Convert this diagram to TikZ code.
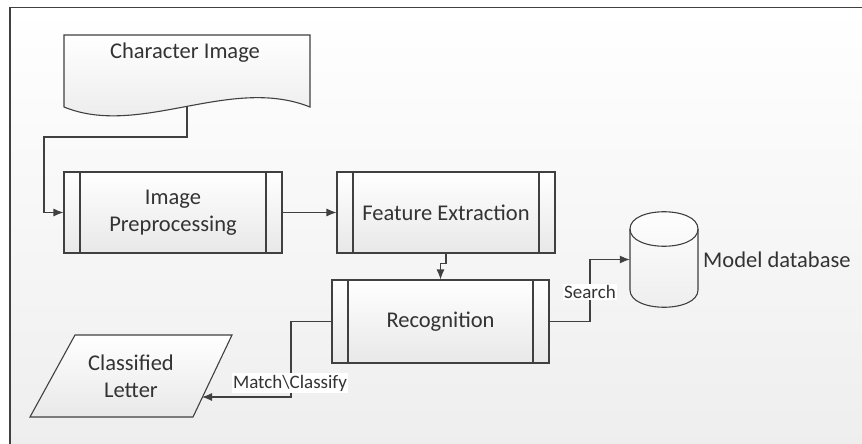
\documentclass[tikz,border=0pt]{standalone}
\usepackage{fontspec}
\setmainfont{Carlito}
\usetikzlibrary{arrows.meta}
\definecolor{linec}{HTML}{404040}
\definecolor{textc}{HTML}{333333}
\begin{document}
\begin{tikzpicture}[x=1pt,y=-1pt,
  every node/.style={text=textc},
  mainfont/.style={font=\fontsize{22.5}{27}\selectfont},
  shapeline/.style={draw=linec, line width=1.1pt},
  boxfill/.style={top color=white, bottom color=black!9},
  procbox/.style={shapeline, boxfill, minimum width=218pt, minimum height=81pt,
    inner sep=0pt, mainfont, align=center,
    path picture={\draw[linec, line width=1.1pt]
      ([xshift=16pt]path picture bounding box.north west) -- ([xshift=16pt]path picture bounding box.south west)
      ([xshift=-16pt]path picture bounding box.north east) -- ([xshift=-16pt]path picture bounding box.south east);}},
  plain/.style={inner sep=0pt, mainfont, align=center},
  arr/.style={draw=linec, line width=1.1pt, -{Latex[length=10pt,width=8pt]}},
  lbl/.style={fill=white, inner sep=1.5pt, font=\fontsize{19}{22}\selectfont}
]
\useasboundingbox (0,0) rectangle (862,444);
\clip (0,0) rectangle (862,444);
\fill[white] (0,0) rectangle (862,444);
% frame
\draw[linec, line width=1.2pt, top color=white, bottom color=black!7] (10,7.5) rectangle (880,470);

% document shape
\draw[shapeline, boxfill] (64,35) -- (310,35) -- (310,107)
  .. controls (230,75) and (140,138) .. (64,107) -- cycle;
\node[plain] (doc) at (185,53) {Character Image};
\coordinate (docb) at (187,107);
\coordinate (bend1) at (44,137);

% process boxes
\node[procbox] (ip) at (173,212.5) {Image\\Preprocessing};
\node[procbox] (fe) at (446,212.5) {Feature Extraction};
\node[procbox, minimum width=217pt, minimum height=83pt] (rec) at (440.5,321.5) {Recognition};

% database cylinder
\node[minimum width=68pt, minimum height=96pt, inner sep=0pt] (db) at (664,259.5) {};
\draw[shapeline, top color=white, bottom color=black!7]
  (630,229) -- (630,290) .. controls (630,313) and (698,313) .. (698,290)
  -- (698,229) .. controls (698,206) and (630,206) .. (630,229) -- cycle;
\draw[shapeline] (630,229) .. controls (630,252) and (698,252) .. (698,229);
\node[plain, anchor=west] (dbl) at (703,260) {Model database};

% classified letter
\draw[shapeline, boxfill] (75,335) -- (232,335) -- (193,417) -- (30,417) -- cycle;
\node[plain] (cl) at (131,376) {Classified\\Letter};
\coordinate (clr) at (202,397);

% connectors
\coordinate (sx) at (590,0);
\coordinate (mx) at (291,0);
\draw[arr] (docb) |- (bend1) |- (ip.west);
\draw[arr] (ip.east) -- (fe.west);
\draw[arr] (fe.south) -- ++(0,10) -| (rec.north);
\draw[arr] (rec.east) -- (rec.east -| sx) |- (db.west);
\draw[arr] (rec.west) -- (rec.west -| mx) |- (clr);
\node[lbl] (search) at (590,292) {Search};
\node[lbl] (match) at (290,383) {Match\textbackslash Classify};
\end{tikzpicture}
\end{document}
